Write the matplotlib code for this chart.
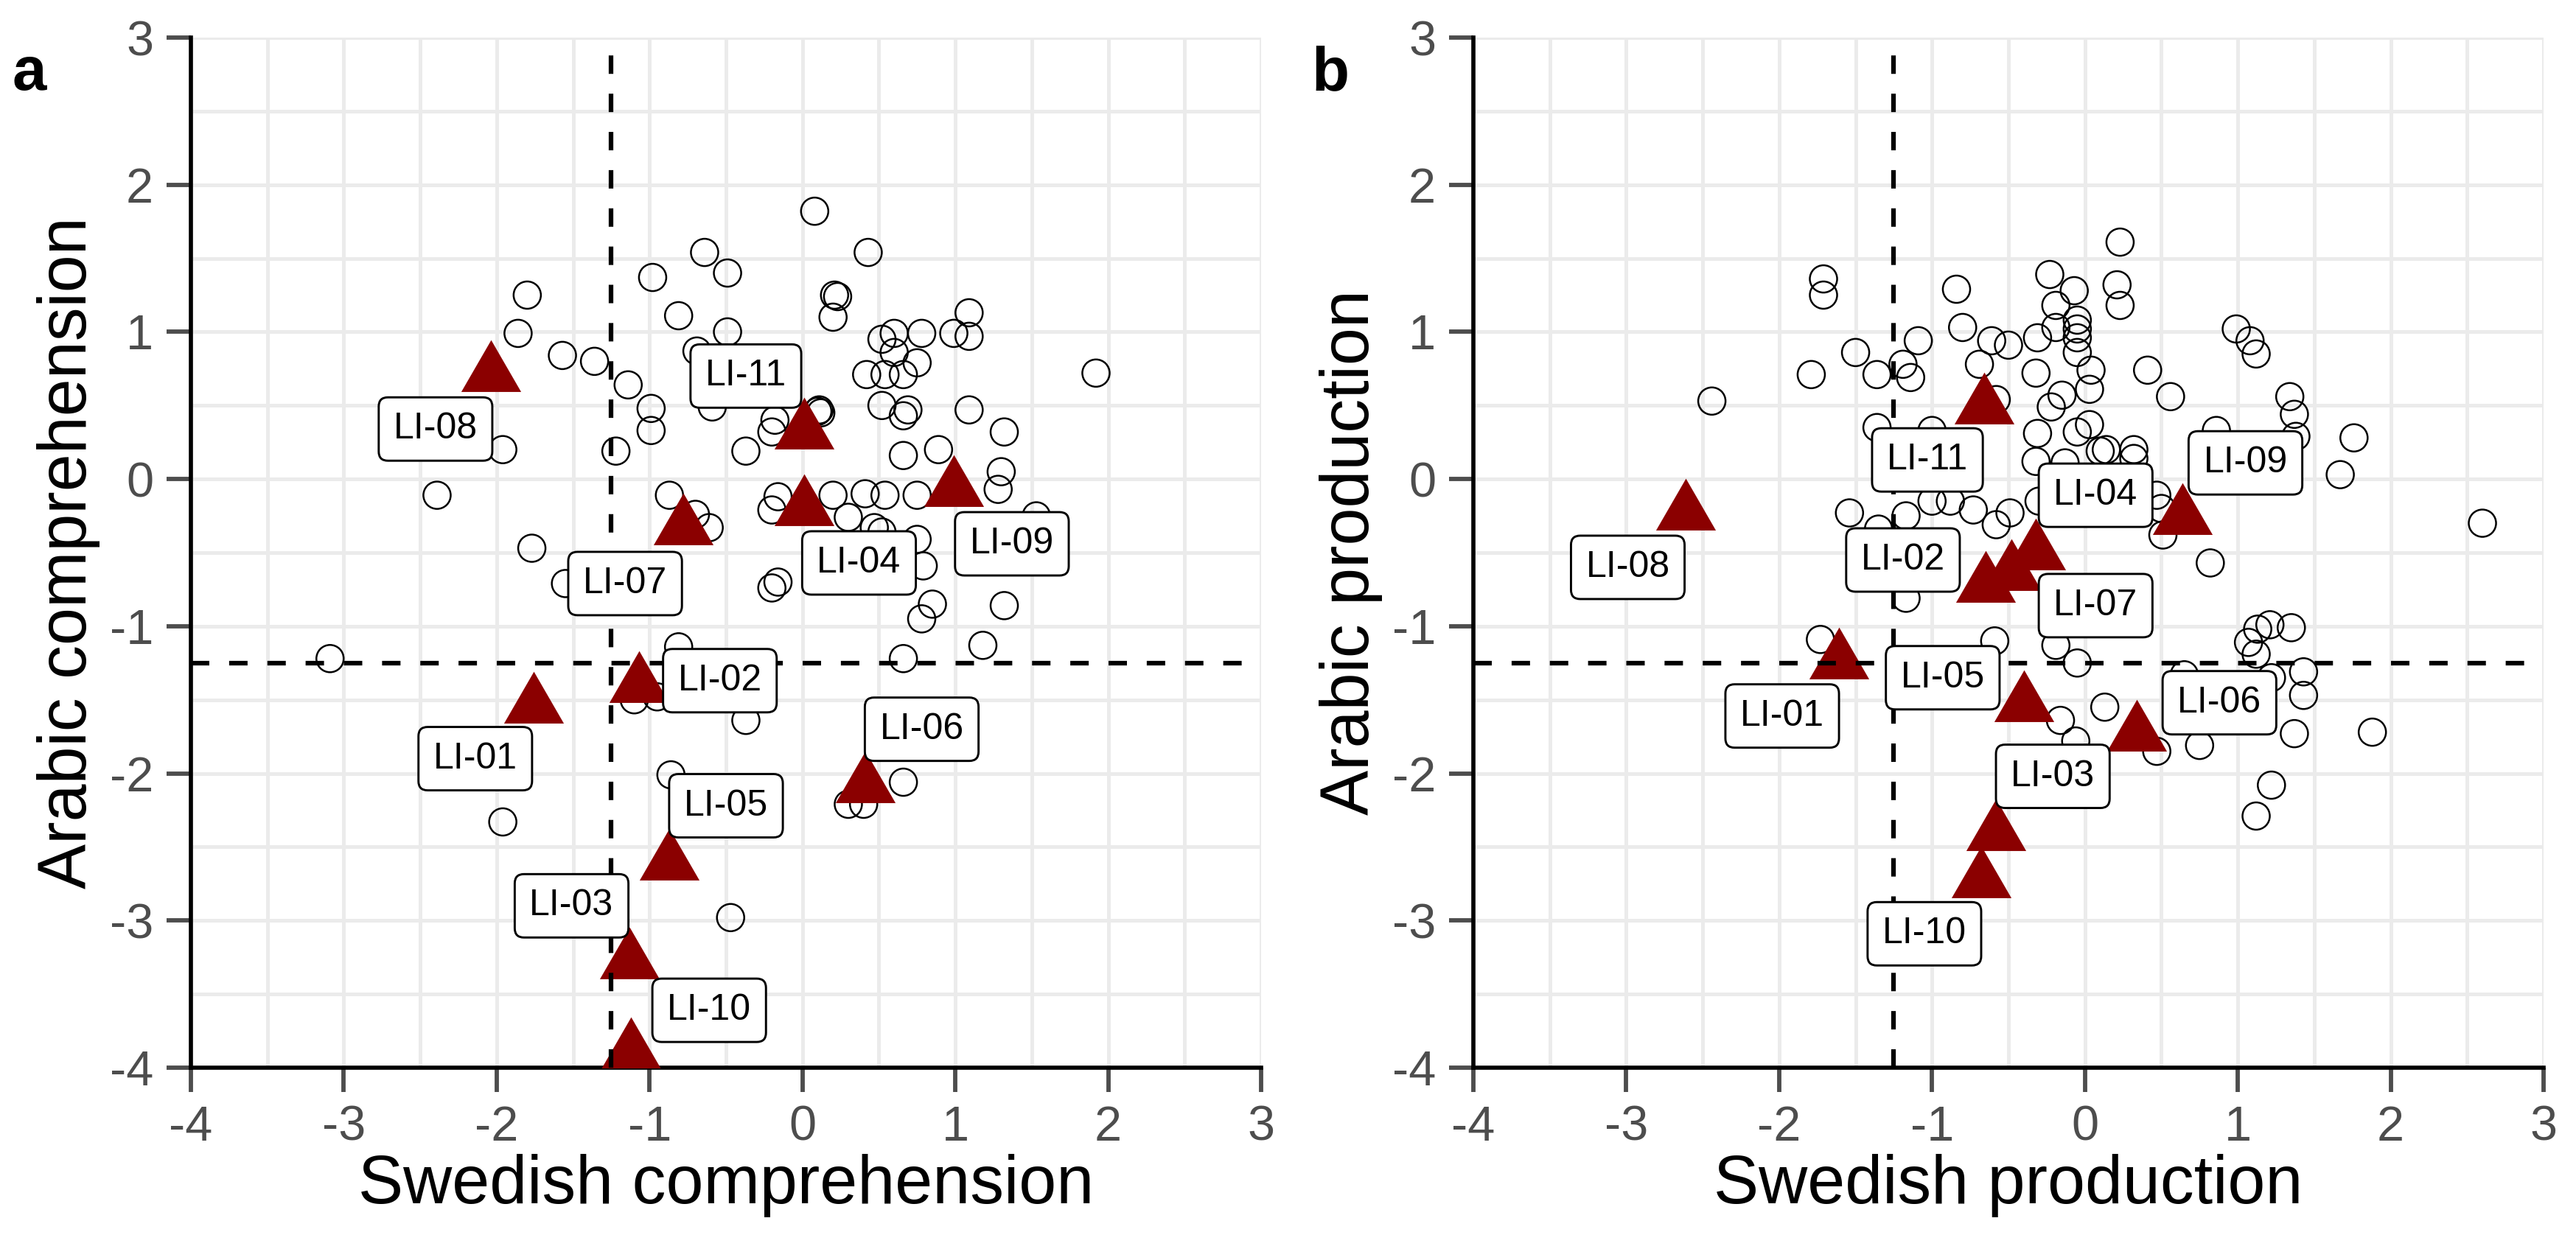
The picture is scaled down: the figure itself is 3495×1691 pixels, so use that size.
import numpy as np
import matplotlib
matplotlib.use("Agg")
import matplotlib.pyplot as plt
from matplotlib.path import Path

plt.rcParams["font.family"] = ["Liberation Sans", "DejaVu Sans"]
plt.rcParams["axes.unicode_minus"] = False

# ----------------------------
# Data
# ----------------------------
# comparison children, comprehension (Swedish x, Arabic y)
comp_sw = [-3.09, -2.39, -1.96, -1.96, -1.80, -1.86, -1.57, -1.36, -1.14, -1.77,
           -1.55, -0.98, -0.81, -0.64, -0.49, -0.49, -0.69, -0.59, -0.99, -0.99,
           -1.22, -0.87, -0.70, -0.61, -0.37, -0.18, -0.20, -0.16, -0.20, -0.16,
           -0.20, 0.08, 0.43, 0.21, 0.23, 0.20, 1.09, 0.52, 0.60, 0.78,
           0.99, 1.09, 0.60, 0.75, 0.42, 0.54, 0.66, 1.92, 0.52, 0.69,
           0.66, 1.09, 0.10, 0.12, 0.11, 1.32, 0.66, 0.89, 1.30, 1.28,
           0.20, 0.41, 0.54, 0.75, 0.30, 0.47, 0.52, 0.75, 1.53, 0.79,
           0.85, 0.78, 1.32, 1.18, 0.66, -0.81, -1.10, -0.95, -0.37, -0.86,
           0.66, 0.30, 0.40, -0.47]
comp_ar = [-1.22, -0.11, 0.20, -2.33, 1.25, 0.99, 0.84, 0.80, 0.64, -0.47,
           -0.71, 1.37, 1.11, 1.54, 1.40, 1.00, 0.87, 0.49, 0.48, 0.33,
           0.19, -0.11, -0.24, -0.33, 0.19, 0.40, 0.32, -0.12, -0.21, -0.70,
           -0.74, 1.82, 1.54, 1.25, 1.24, 1.10, 1.13, 0.95, 0.99, 0.99,
           0.99, 0.97, 0.86, 0.79, 0.71, 0.71, 0.71, 0.72, 0.50, 0.47,
           0.43, 0.47, 0.46, 0.45, 0.47, 0.32, 0.16, 0.20, 0.05, -0.07,
           -0.11, -0.10, -0.11, -0.11, -0.26, -0.33, -0.36, -0.41, -0.25, -0.59,
           -0.85, -0.95, -0.86, -1.13, -1.22, -1.14, -1.50, -1.48, -1.64, -2.01,
           -2.06, -2.21, -2.21, -2.98]

# comparison children, production
prod_sw = [-2.44, -1.79, -1.71, -1.71, -1.50, -1.36, -1.19, -1.14, -1.09, -1.36,
           -1.00, -0.84, -0.80, -0.61, -0.50, -0.69, -0.58, -0.31, -0.32, -0.23,
           -0.19, -0.19, -0.07, -0.05, -0.05, -0.05, -0.05, 0.04, 0.03, -0.15,
           -0.22, -0.31, -0.05, 0.03, 0.10, -0.32, -0.13, 0.14, 0.32, 0.32,
           0.23, 0.21, 0.23, 0.41, 0.56, 0.99, 1.08, 1.12, 1.34, 1.37,
           1.38, 1.76, 1.67, 2.60, 0.86, 0.82, 0.47, 0.50, 0.51, -1.54,
           -1.17, -1.00, -0.88, -0.73, -0.58, -0.49, -0.30, -1.35, -1.17, -1.73,
           -0.59, -0.19, -0.05, 1.13, 1.21, 1.35, 1.07, 1.12, 1.43, 1.43,
           1.22, 0.65, -0.16, 0.13, -0.06, 0.47, 0.75, 1.37, 1.88, 1.22,
           1.12]
prod_ar = [0.53, 0.71, 1.36, 1.25, 0.86, 0.71, 0.78, 0.69, 0.94, 0.35,
           0.33, 1.29, 1.03, 0.94, 0.91, 0.78, 0.54, 0.96, 0.72, 1.39,
           1.18, 1.03, 1.28, 1.08, 1.02, 0.96, 0.86, 0.74, 0.61, 0.57,
           0.49, 0.31, 0.32, 0.37, 0.19, 0.12, 0.11, 0.20, 0.20, 0.14,
           1.61, 1.32, 1.18, 0.74, 0.56, 1.02, 0.94, 0.85, 0.56, 0.44,
           0.29, 0.28, 0.03, -0.30, 0.33, -0.57, -0.11, -0.20, -0.38, -0.23,
           -0.25, -0.15, -0.15, -0.21, -0.31, -0.23, -0.15, -0.34, -0.81, -1.09,
           -1.10, -1.13, -1.25, -1.02, -0.99, -1.01, -1.11, -1.19, -1.31, -1.47,
           -1.35, -1.33, -1.64, -1.55, -1.78, -1.85, -1.81, -1.73, -1.72, -2.08,
           -2.29]

# children with language impairment
li_ids = ["LI-01", "LI-02", "LI-03", "LI-04", "LI-05", "LI-06",
          "LI-07", "LI-08", "LI-09", "LI-10", "LI-11"]
li_comp_sw = [-1.76, -1.07, -1.13, 0.01, -0.87, 0.41, -0.78, -2.04, 0.99, -1.12, 0.01]
li_comp_ar = [-1.54, -1.40, -3.28, -0.20, -2.61, -2.08, -0.33, 0.71, -0.07, -3.89, 0.32]
li_prod_sw = [-1.61, -0.65, -0.58, -0.32, -0.40, 0.34, -0.48, -2.61, 0.64, -0.68, -0.66]
li_prod_ar = [-1.24, -0.72, -2.41, -0.50, -1.53, -1.73, -0.64, -0.23, -0.26, -2.73, 0.49]

cutoff = -1.25

# where the repelled label boxes sit
lab_comp_x = [-2.14, -0.54, -1.51, 0.37, -0.50, 0.78, -1.16, -2.40, 1.37, -0.61, -0.37]
lab_comp_y = [-1.90, -1.37, -2.90, -0.57, -2.22, -1.70, -0.71, 0.34, -0.44, -3.61, 0.70]
lab_prod_x = [-1.98, -1.19, -0.21, 0.07, -0.93, 0.88, 0.07, -2.99, 1.05, -1.05, -1.03]
lab_prod_y = [-1.61, -0.55, -2.02, -0.11, -1.35, -1.52, -0.86, -0.60, 0.11, -3.09, 0.13]

# ----------------------------
# Helpers
# ----------------------------
h = np.sqrt(3) / 2
TRI = Path([(0, 2 * h / 3), (-0.5, -h / 3), (0.5, -h / 3), (0, 2 * h / 3)],
           [Path.MOVETO, Path.LINETO, Path.LINETO, Path.CLOSEPOLY])

GRID = "#EBEBEB"
TICK = "#4D4D4D"
LI_RED = "#8B0000"


def panel(ax, xs, ys, lx, ly, labx, laby, xlabel, ylabel):
    ax.set_xlim(-4, 3)
    ax.set_ylim(-4, 3)
    ax.set_xticks(range(-4, 4))
    ax.set_yticks(range(-4, 4))
    ax.set_xticks(np.arange(-3.5, 3.0, 1.0), minor=True)
    ax.set_yticks(np.arange(-3.5, 3.0, 1.0), minor=True)
    ax.grid(which="both", color=GRID, lw=1.2)
    ax.set_axisbelow(True)
    for s in ["top", "right"]:
        ax.spines[s].set_visible(False)
    for s in ["left", "bottom"]:
        ax.spines[s].set_linewidth(1.35)
        ax.spines[s].set_color("black")
    ax.tick_params(which="major", length=8.0, width=1.4, color=TICK,
                   labelsize=16, labelcolor=TICK, pad=4.2)
    ax.tick_params(which="minor", length=0)

    ax.scatter(xs, ys, s=79, facecolors="none", edgecolors="black",
               linewidths=0.6, zorder=3)
    ax.scatter(lx, ly, s=506, marker=TRI, color=LI_RED, linewidths=0, zorder=4)

    dash = dict(color="black", lw=1.5, dashes=(4, 4.3), zorder=5)
    ax.axvline(cutoff, **dash)
    ax.axhline(cutoff, **dash)

    for lab, tx, ty in zip(li_ids, labx, laby):
        ax.text(tx, ty, lab, ha="center", va="center", fontsize=12, zorder=6,
                bbox=dict(boxstyle="round,pad=0.4,rounding_size=0.25",
                          fc="white", ec="black", lw=0.7))

    ax.set_xlabel(xlabel, fontsize=22, labelpad=1)
    ax.set_ylabel(ylabel, fontsize=22, labelpad=3)


# ----------------------------
# Main
# ----------------------------
fig = plt.figure(figsize=(3495 / 300, 1691 / 300), dpi=300)
ax_a = fig.add_axes([259 / 3495, 1 - 1449 / 1691, 1452 / 3495, 1398 / 1691])
ax_b = fig.add_axes([1999 / 3495, 1 - 1449 / 1691, 1452 / 3495, 1398 / 1691])

panel(ax_a, comp_sw, comp_ar, li_comp_sw, li_comp_ar, lab_comp_x, lab_comp_y,
      "Swedish comprehension", "Arabic comprehension")
panel(ax_b, prod_sw, prod_ar, li_prod_sw, li_prod_ar, lab_prod_x, lab_prod_y,
      "Swedish production", "Arabic production")

fig.text(40 / 3495, 1 - 100 / 1691, "a", fontsize=20, fontweight="bold",
         ha="center", va="center")
fig.text(1805 / 3495, 1 - 100 / 1691, "b", fontsize=20, fontweight="bold",
         ha="center", va="center")

fig.savefig("out.png", dpi=300, facecolor="white")
